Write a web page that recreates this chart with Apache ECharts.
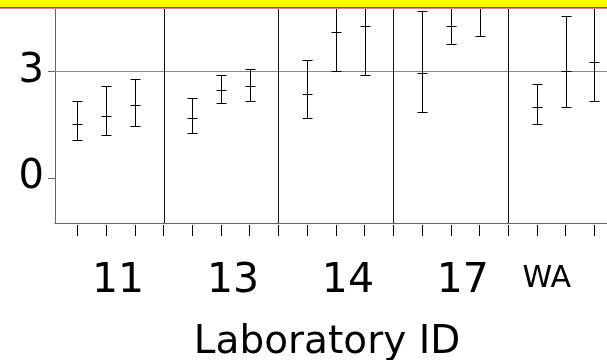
<!DOCTYPE html>
<html>
<head>
<meta charset="utf-8">
<script src="https://cdn.jsdelivr.net/npm/echarts@6/dist/echarts.min.js"></script>
<style>
  html, body { margin: 0; padding: 0; background: #ffffff; }
  #chart { width: 607px; height: 360px; }
</style>
</head>
<body>
<div id="chart"></div>
<script>
// Laboratory groups and the centre of each group on the x scale
const labIds = ['11', '13', '14', '17', 'WA'];
const labCentres = [2, 6, 10, 14, 18];
// Boundaries between neighbouring laboratory groups
const groupBounds = [4, 8, 12, 16];
// Minor tick positions along the x axis
const xTicks = [1, 2, 3, 4, 5, 6, 7, 8, 9, 10, 11, 12, 13, 14, 15, 16, 17, 18, 19];
// Interval estimates: position, lower limit, centre, upper limit
const barPos  = [1,     2,     3,     5,     6,     7,     9,     10,    11,    13,    14,    15,    17,    18,    19];
const barLow  = [1.055, 1.20,  1.47,  1.26,  2.10,  2.157, 1.69,  3.00,  2.90,  1.84,  3.75,  4.00,  1.52,  2.00,  2.157];
const barMid  = [1.53,  1.735, 2.05,  1.68,  2.47,  2.58,  2.36,  4.10,  4.27,  2.96,  4.27,  4.85,  2.00,  3.00,  3.26];
const barHigh = [2.157, 2.58,  2.78,  2.25,  2.90,  3.05,  3.32,  5.20,  5.65,  4.70,  4.80,  5.70,  2.63,  4.54,  4.90];
// Y axis tick values and the reference level
const yTickValues = [0, 3];
const referenceLevel = 3;

const X_MIN = 0.223, X_MAX = 19.436;
const Y_MIN = -1.265, Y_MAX = 5;
const FONT = '"DejaVu Sans", "Liberation Sans", Arial, sans-serif';

const px = v => Math.round(v) + 0.5;

function renderInterval(params, api) {
  const x = api.value(0);
  const lo = api.coord([x, api.value(1)]);
  const mid = api.coord([x, api.value(2)]);
  const hi = api.coord([x, api.value(3)]);
  const cx = px(lo[0]);
  const half = 5;
  const style = { stroke: '#000000', lineWidth: 1 };
  const hLine = y => ({ type: 'line', shape: { x1: cx - half, y1: px(y), x2: cx + half, y2: px(y) }, style });
  return {
    type: 'group',
    children: [
      { type: 'line', shape: { x1: cx, y1: px(hi[1]), x2: cx, y2: px(lo[1]) }, style },
      hLine(hi[1]),
      hLine(lo[1]),
      hLine(mid[1])
    ]
  };
}

function renderBound(params, api) {
  const cs = params.coordSys;
  const p = api.coord([api.value(0), 0]);
  const x = px(p[0]);
  return {
    type: 'line',
    shape: { x1: x, y1: cs.y, x2: x, y2: cs.y + cs.height },
    style: { stroke: '#111111', lineWidth: 1 }
  };
}

function renderReference(params, api) {
  const cs = params.coordSys;
  const p = api.coord([X_MIN, api.value(0)]);
  const y = px(p[1]);
  return {
    type: 'line',
    shape: { x1: cs.x, y1: y, x2: cs.x + cs.width, y2: y },
    style: { stroke: '#8a8a8a', lineWidth: 1 }
  };
}

const chart = echarts.init(document.getElementById('chart'), null, { renderer: 'canvas' });

chart.setOption({
  animation: false,
  backgroundColor: '#ffffff',
  grid: { left: 55, right: 0, top: 0, bottom: 137, containLabel: false, outerBoundsMode: 'none' },
  xAxis: [
    {
      type: 'value',
      min: X_MIN,
      max: X_MAX,
      position: 'bottom',
      axisLine: { show: true, onZero: false, lineStyle: { color: '#666666', width: 1 } },
      axisTick: { show: false },
      splitLine: { show: false },
      axisLabel: {
        show: true,
        customValues: labCentres,
        margin: 35,
        color: '#000000',
        fontFamily: FONT,
        formatter: v => {
          const name = labIds[labCentres.indexOf(v)];
          return name === 'WA' ? '{w|' + name + '}' : '{n|' + name + '}';
        },
        rich: {
          n: { fontSize: 41, fontFamily: FONT, color: '#000', lineHeight: 46, padding: [0, 0, 0, 24] },
          w: { fontSize: 30, fontFamily: FONT, color: '#000', lineHeight: 42, padding: [0, 38, 0, 0] }
        }
      },
      name: 'Laboratory ID',
      nameLocation: 'middle',
      nameGap: 100,
      nameTextStyle: { fontSize: 39, fontFamily: FONT, color: '#000000', padding: [0, 8, 0, 0] }
    },
    {
      type: 'value',
      min: X_MIN,
      max: X_MAX,
      position: 'bottom',
      offset: 2,
      axisLine: { show: false, onZero: false },
      axisTick: { show: true, customValues: xTicks, length: 11, lineStyle: { color: '#000000', width: 1 } },
      axisLabel: { show: false },
      splitLine: { show: false }
    }
  ],
  yAxis: {
    type: 'value',
    min: Y_MIN,
    max: Y_MAX,
    axisLine: { show: true, onZero: false, lineStyle: { color: '#666666', width: 1 } },
    axisTick: { show: true, customValues: yTickValues, length: 7, lineStyle: { color: '#666666' } },
    splitLine: { show: false },
    axisLabel: {
      customValues: yTickValues,
      margin: 11,
      fontSize: 40,
      fontFamily: FONT,
      color: '#000000'
    }
  },
  series: [
    {
      type: 'custom',
      name: 'reference',
      silent: true,
      clip: true,
      renderItem: renderReference,
      data: [[referenceLevel]],
      encode: { y: 0 },
      z: 1
    },
    {
      type: 'custom',
      name: 'groups',
      silent: true,
      clip: true,
      renderItem: renderBound,
      data: groupBounds.map(v => [v]),
      encode: { x: 0 },
      z: 2
    },
    {
      type: 'custom',
      name: 'intervals',
      clip: true,
      renderItem: renderInterval,
      data: barPos.map((p, i) => [p, barLow[i], barMid[i], barHigh[i]]),
      encode: { x: 0, y: [1, 2, 3] },
      z: 3
    }
  ],
  graphic: [
    { type: 'rect', left: 0, top: 0, z: 100, shape: { width: 607, height: 7 }, style: { fill: '#ffff00' } },
    { type: 'rect', left: 0, top: 7, z: 100, shape: { width: 607, height: 1 }, style: { fill: '#a8403a' } },
    { type: 'rect', left: 0, top: 8, z: 100, shape: { width: 607, height: 1 }, style: { fill: '#d88a80' } }
  ]
});
</script>
</body>
</html>
